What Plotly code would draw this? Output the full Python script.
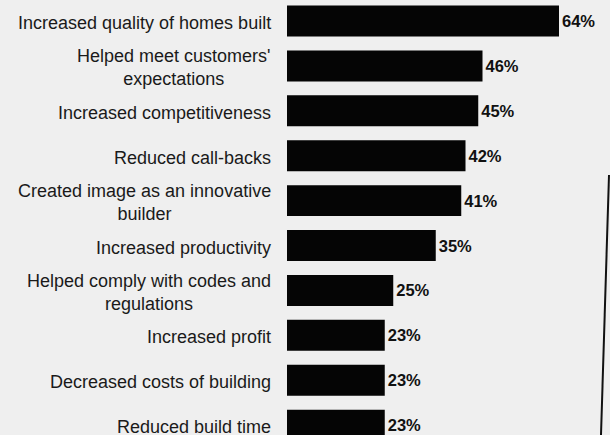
import plotly.graph_objects as go

categories = [
    "Increased quality of homes built",
    "Helped meet customers'<br>expectations",
    "Increased competitiveness",
    "Reduced call-backs",
    "Created image as an innovative<br>builder",
    "Increased productivity",
    "Helped comply with codes and<br>regulations",
    "Increased profit",
    "Decreased costs of building",
    "Reduced build time",
]
values = [64, 46, 45, 42, 41, 35, 25, 23, 23, 23]
value_labels = [f"{v}%" for v in values]

fig = go.Figure(
    go.Bar(
        x=values,
        y=categories,
        orientation="h",
        marker=dict(color="#050505", line=dict(width=0)),
        text=value_labels,
        textposition="outside",
        textfont=dict(family="Liberation Sans, Arial, sans-serif", size=16.5, color="#111111", weight="bold"),
        cliponaxis=False,
        width=0.69,
        hoverinfo="skip",
    )
)

annotations = [
    dict(
        x=0, xref="paper", y=cat, yref="y",
        text=cat, showarrow=False,
        xanchor="right", yanchor="middle", align="center",
        xshift=-14, yshift=-2,
        font=dict(family="Liberation Sans, Arial, sans-serif", size=18, color="#1a1a1a"),
    )
    for cat in categories
]

fig.update_layout(
    width=610,
    height=435,
    margin=dict(l=287, r=0, t=0, b=0, autoexpand=False),
    paper_bgcolor="#efefef",
    plot_bgcolor="#efefef",
    showlegend=False,
    xaxis=dict(range=[0, 76], visible=False, fixedrange=True),
    yaxis=dict(
        type="category",
        range=[9.22, -0.468],
        autorange=False,
        showgrid=False,
        zeroline=False,
        showline=False,
        showticklabels=False,
        ticks="",
        automargin=False,
        fixedrange=True,
    ),
    annotations=annotations,
    shapes=[
        dict(
            type="line", xref="paper", yref="paper",
            x0=(609 - 287) / 323, y0=1 - 175 / 435,
            x1=(601 - 287) / 323, y1=0,
            line=dict(color="#111111", width=2),
        )
    ],
)

fig.write_html(
    "out.html",
    config={"displayModeBar": False},
    post_script="document.body.style.margin='0';document.body.style.background='#efefef';",
)
